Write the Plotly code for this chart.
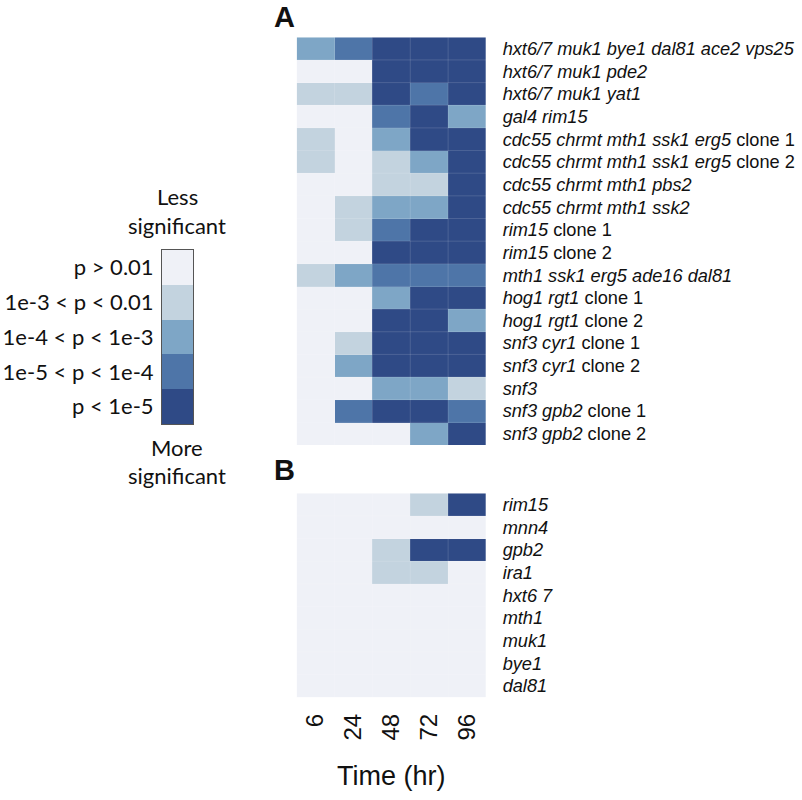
import plotly.graph_objects as go

# ---------------- data ----------------
times = ["6", "24", "48", "72", "96"]

rows_a = [
    "<i>hxt6/7 muk1 bye1 dal81 ace2 vps25</i>",
    "<i>hxt6/7 muk1 pde2</i>",
    "<i>hxt6/7 muk1 yat1</i>",
    "<i>gal4 rim15</i>",
    "<i>cdc55 chrmt mth1 ssk1 erg5</i> clone 1",
    "<i>cdc55 chrmt mth1 ssk1 erg5</i> clone 2",
    "<i>cdc55 chrmt mth1 pbs2</i>",
    "<i>cdc55 chrmt mth1 ssk2</i>",
    "<i>rim15</i> clone 1",
    "<i>rim15</i> clone 2",
    "<i>mth1 ssk1 erg5 ade16 dal81</i>",
    "<i>hog1 rgt1</i> clone 1",
    "<i>hog1 rgt1</i> clone 2",
    "<i>snf3 cyr1</i> clone 1",
    "<i>snf3 cyr1</i> clone 2",
    "<i>snf3</i>",
    "<i>snf3 gpb2</i> clone 1",
    "<i>snf3 gpb2</i> clone 2",
]
# significance level: 0 = p>0.01 ... 4 = p<1e-5
levels_a = [
    [2, 3, 4, 4, 4],
    [0, 0, 4, 4, 4],
    [1, 1, 4, 3, 4],
    [0, 0, 3, 4, 2],
    [1, 0, 2, 4, 4],
    [1, 0, 1, 2, 4],
    [0, 0, 1, 1, 4],
    [0, 1, 2, 2, 4],
    [0, 1, 3, 4, 4],
    [0, 0, 4, 4, 4],
    [1, 2, 3, 3, 3],
    [0, 0, 2, 4, 4],
    [0, 0, 4, 4, 2],
    [0, 1, 4, 4, 4],
    [0, 2, 4, 4, 4],
    [0, 0, 2, 2, 1],
    [0, 3, 4, 4, 3],
    [0, 0, 0, 2, 4],
]

rows_b = ["<i>rim15</i>", "<i>mnn4</i>", "<i>gpb2</i>", "<i>ira1</i>", "<i>hxt6 7</i>",
          "<i>mth1</i>", "<i>muk1</i>", "<i>bye1</i>", "<i>dal81</i>"]
levels_b = [
    [0, 0, 0, 1, 4],
    [0, 0, 0, 0, 0],
    [0, 0, 1, 4, 4],
    [0, 0, 1, 1, 0],
    [0, 0, 0, 0, 0],
    [0, 0, 0, 0, 0],
    [0, 0, 0, 0, 0],
    [0, 0, 0, 0, 0],
    [0, 0, 0, 0, 0],
]

legend_labels = ["p > 0.01", "1e-3 < p < 0.01", "1e-4 < p < 1e-3", "1e-5 < p < 1e-4", "p < 1e-5"]
legend_levels = [0, 1, 2, 3, 4]

colors = ["#eff1f7", "#c3d3df", "#7ea6c6", "#4e75a8", "#2f4a86"]

# ---------------- figure ----------------
W, H = 802, 800
def px_x(a, b):
    return [a / W, b / W]
def px_y(top, bottom):
    return [1 - bottom / H, 1 - top / H]
def ppx(a):
    return a / W
def ppy(a):
    return 1 - a / H

cs = []
n = len(colors)
for i, c in enumerate(colors):
    cs.append([i / n, c])
    cs.append([(i + 1) / n, c])
def zval(v):
    return (v + 0.5) / n

fig = go.Figure()

xi = list(range(len(times)))

def add_heat(levels, xa, ya):
    z = [[zval(v) for v in r] for r in levels]
    fig.add_trace(go.Heatmap(z=z, x=list(range(len(levels[0]))), y=list(range(len(levels))),
                             colorscale=cs, zmin=0, zmax=1, showscale=False,
                             xaxis=xa, yaxis=ya, hoverinfo="skip"))

add_heat(levels_a, "x", "y")
add_heat(levels_b, "x2", "y2")
fig.add_trace(go.Heatmap(z=[[zval(v)] for v in legend_levels], x=[0], y=list(range(len(legend_levels))),
                         colorscale=cs, zmin=0, zmax=1, showscale=False,
                         xaxis="x3", yaxis="y3", hoverinfo="skip"))

label_font = dict(family="Liberation Sans, Arial, sans-serif", size=18.2, color="#111")
leg_font = dict(family="Lato, Open Sans, sans-serif", size=22, color="#111")

xdomA = px_x(296.7, 486)
fig.update_layout(
    width=W, height=H, margin=dict(l=0, r=0, t=0, b=0, autoexpand=False),
    paper_bgcolor="white", plot_bgcolor="white", showlegend=False,
    xaxis=dict(domain=xdomA, range=[-0.5, 4.5], showticklabels=False, showgrid=False,
               zeroline=False, anchor="y", automargin=False),
    yaxis=dict(domain=px_y(37.3, 445), range=[len(rows_a) - 0.5, -0.5], side="right",
               tickvals=list(range(len(rows_a))), ticktext=rows_a, tickfont=label_font,
               ticks="outside", ticklen=12, tickcolor="rgba(0,0,0,0)",
               showgrid=False, zeroline=False, anchor="x", automargin=False),
    xaxis2=dict(domain=xdomA, range=[-0.5, 4.5], tickvals=xi, ticktext=times, tickangle=-90,
                tickfont=dict(family="Liberation Sans, Arial, sans-serif", size=24, color="#111"),
                ticks="outside", ticklen=6, tickcolor="rgba(0,0,0,0)",
                showgrid=False, zeroline=False, anchor="y2", automargin=False,
                title=dict(text="Time (hr)", standoff=26,
                           font=dict(family="Liberation Sans, Arial, sans-serif", size=27, color="#111"))),
    yaxis2=dict(domain=px_y(493.3, 697.3), range=[len(rows_b) - 0.5, -0.5], side="right",
                tickvals=list(range(len(rows_b))), ticktext=rows_b, tickfont=label_font,
                ticks="outside", ticklen=12, tickcolor="rgba(0,0,0,0)",
                showgrid=False, zeroline=False, anchor="x2", automargin=False),
    xaxis3=dict(domain=px_x(162, 193), range=[-0.5, 0.5], showticklabels=False, showgrid=False,
                zeroline=False, showline=True, linecolor="#555", linewidth=1, mirror=True,
                anchor="y3", automargin=False),
    yaxis3=dict(domain=px_y(250, 424), range=[len(legend_levels) - 0.5, -0.5], side="left",
                tickvals=legend_levels, ticktext=legend_labels, tickfont=leg_font,
                ticks="outside", ticklen=3, tickcolor="rgba(0,0,0,0)",
                showgrid=False, zeroline=False, showline=True, linecolor="#555", linewidth=1,
                mirror=True, anchor="x3", automargin=False),
)

# faint cell separators
sep = "rgba(255,255,255,0.14)"
for xa, ya, nrows in (("x", "y", len(rows_a)), ("x2", "y2", len(rows_b))):
    for k in range(1, len(times)):
        fig.add_shape(type="line", xref=xa, yref=ya, x0=k - 0.5, x1=k - 0.5,
                      y0=-0.5, y1=nrows - 0.5, line=dict(color=sep, width=1))
    for k in range(1, nrows):
        fig.add_shape(type="line", xref=xa, yref=ya, x0=-0.5, x1=len(times) - 0.5,
                      y0=k - 0.5, y1=k - 0.5, line=dict(color=sep, width=1))

# panel letters
for txt, yy in (("A", 17), ("B", 470)):
    fig.add_annotation(text="<b>" + txt + "</b>", x=ppx(284), y=ppy(yy), xref="paper", yref="paper",
                       showarrow=False, xanchor="center", yanchor="middle",
                       font=dict(family="Liberation Sans, Arial, sans-serif", size=29, color="#111"))

# legend captions
for txt, yy in (("Less", 197), ("significant", 226), ("More", 447), ("significant", 475)):
    fig.add_annotation(text=txt, x=ppx(177), y=ppy(yy), xref="paper", yref="paper",
                       showarrow=False, xanchor="center", yanchor="middle", font=leg_font)

fig.write_html("out.html", config={"displayModeBar": False},
               post_script="document.body.style.margin='0';document.body.style.padding='0';")
